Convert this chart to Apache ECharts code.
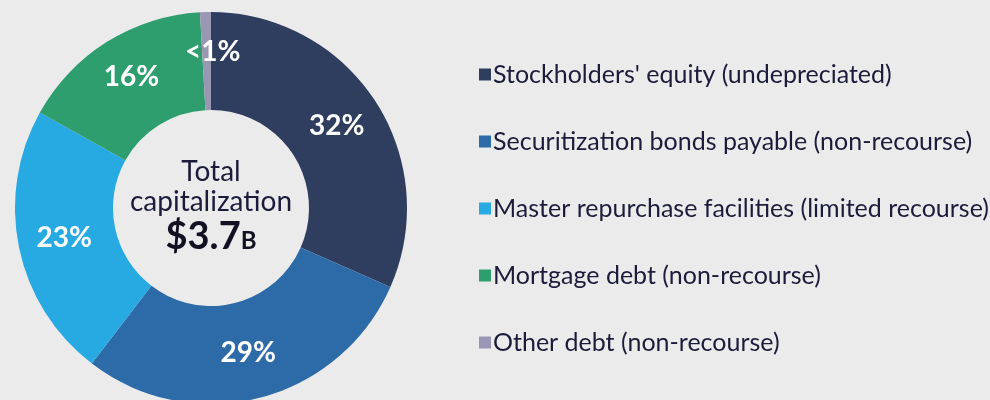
<!DOCTYPE html>
<html>
<head>
<meta charset="utf-8">
<script src="https://cdn.jsdelivr.net/npm/echarts@6/dist/echarts.min.js"></script>
<style>
  html, body { margin: 0; padding: 0; background: #ebebeb; }
  #chart { width: 990px; height: 400px; }
</style>
</head>
<body>
<div id="chart"></div>
<script>
// capital structure shares (%)
var categories = [
  "Stockholders' equity (undepreciated)",
  'Securitization bonds payable (non-recourse)',
  'Master repurchase facilities (limited recourse)',
  'Mortgage debt (non-recourse)',
  'Other debt (non-recourse)'
];
var shares = [31.6, 28.8, 22.7, 16.0, 0.9];
var shareLabels = ['32%', '29%', '23%', '16%', '<1%'];
var colors = ['#2f3e5f', '#2d6aa8', '#27a9e1', '#2f9e6f', '#9a97b5'];

var font = 'Lato';
var chart = echarts.init(document.getElementById('chart'));

var option = {
  backgroundColor: '#ebebeb',
  color: colors,
  legend: {
    orient: 'vertical',
    left: 474,
    top: 57,
    icon: 'rect',
    itemWidth: 12,
    itemHeight: 12,
    itemGap: 42,
    textStyle: { fontFamily: font, fontSize: 25, color: '#1c1c3a', lineHeight: 24, padding: [0, 0, 0, -3] },
    data: categories
  },
  graphic: [
    { type: 'text', x: 211, y: 172, style: { text: 'Total', align: 'center', verticalAlign: 'middle', fontFamily: font, fontSize: 28, fill: '#1c1c3a' } },
    { type: 'text', x: 211, y: 202, style: { text: 'capitalization', align: 'center', verticalAlign: 'middle', fontFamily: font, fontSize: 28, fill: '#1c1c3a' } },
    { type: 'text', x: 211, y: 237, style: {
        text: '{a|$3.7}{b|B}', align: 'center', verticalAlign: 'middle',
        rich: {
          a: { fontFamily: font, fontSize: 38, fontWeight: 'bold', fill: '#111122' },
          b: { fontFamily: font, fontSize: 24, fontWeight: 'bold', fill: '#111122', padding: [9, 0, 0, 0] }
        }
      } }
  ],
  series: [{
    type: 'pie',
    center: [211, 208],
    radius: [98, 196],
    startAngle: 90,
    clockwise: true,
    silent: true,
    label: {
      position: 'inside',
      fontFamily: font,
      fontSize: 28,
      fontWeight: 'bold',
      color: '#ffffff',
      formatter: function (p) { return shareLabels[p.dataIndex]; }
    },
    labelLine: { show: false },
    itemStyle: { borderWidth: 0 },
    data: categories.map(function (c, i) {
      var d = { name: c, value: shares[i] };
      if (i === 3) d.label = { offset: [0, -4] };
      if (i === 4) d.label = { offset: [6, -6] };
      return d;
    })
  }]
};
chart.setOption(option);
</script>
</body>
</html>
